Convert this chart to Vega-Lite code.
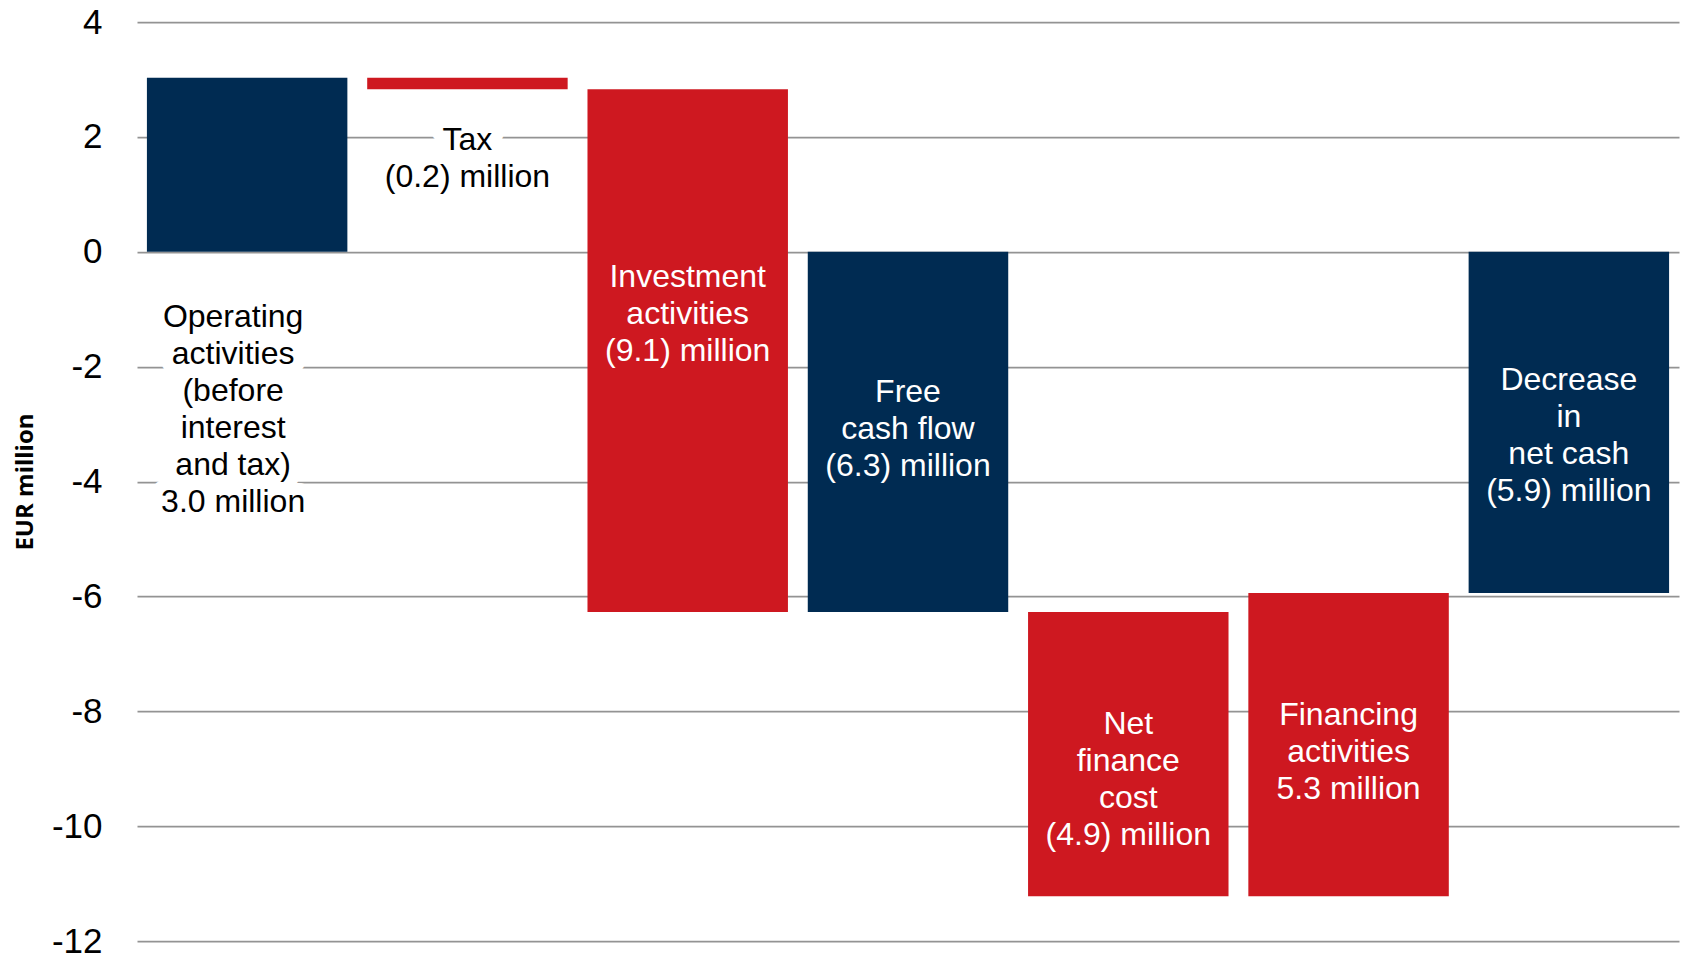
{
  "$schema": "https://vega.github.io/schema/vega-lite/v6.json",
  "autosize": "none",
  "width": 1542,
  "height": 919,
  "padding": {"left": 137, "top": 22, "right": 6, "bottom": 16},
  "background": "white",
  "config": {"view": {"stroke": null}},
  "data": {
    "values": [
      {"cat": "Operating activities", "start": 0, "end": 3.03, "kind": "total", "label": "Operating\nactivities\n(before\ninterest\nand tax)\n3.0 million", "label_y": -1.13, "inside": false},
      {"cat": "Tax", "start": 3.03, "end": 2.83, "kind": "change", "label": "Tax\n(0.2) million", "label_y": 1.95, "inside": false},
      {"cat": "Investment activities", "start": 2.83, "end": -6.27, "kind": "change", "label": "Investment\nactivities\n(9.1) million", "label_y": -0.44, "inside": true},
      {"cat": "Free cash flow", "start": 0, "end": -6.27, "kind": "total", "label": "Free\ncash flow\n(6.3) million", "label_y": -2.44, "inside": true},
      {"cat": "Net finance cost", "start": -6.27, "end": -11.22, "kind": "change", "label": "Net\nfinance\ncost\n(4.9) million", "label_y": -8.22, "inside": true},
      {"cat": "Financing activities", "start": -11.22, "end": -5.94, "kind": "change", "label": "Financing\nactivities\n5.3 million", "label_y": -8.06, "inside": true},
      {"cat": "Decrease in net cash", "start": 0, "end": -5.94, "kind": "total", "label": "Decrease\nin\nnet cash\n(5.9) million", "label_y": -2.23, "inside": true}
    ]
  },
  "encoding": {
    "x": {
      "field": "cat",
      "type": "nominal",
      "sort": null,
      "scale": {"paddingInner": 0.09, "paddingOuter": 0.045},
      "axis": null
    }
  },
  "layer": [
    {
      "mark": {"type": "bar"},
      "encoding": {
        "y": {
          "field": "start",
          "type": "quantitative",
          "scale": {"domain": [-12, 4], "nice": false, "zero": false},
          "axis": {
            "values": [-12, -10, -8, -6, -4, -2, 0, 2, 4],
            "labelExpr": "'' + datum.value",
            "grid": true,
            "gridColor": "#939393",
            "gridWidth": 1.75,
            "domain": false,
            "ticks": false,
            "labelFont": "Liberation Sans",
            "labelFontSize": 35,
            "labelColor": "black",
            "labelPadding": 35,
            "title": "EUR million",
            "titleFont": "Open Sans",
            "titleFontSize": 24,
            "titleFontWeight": "bold",
            "titleColor": "black",
            "titlePadding": 14
          }
        },
        "y2": {"field": "end"},
        "color": {
          "field": "kind",
          "type": "nominal",
          "scale": {"domain": ["total", "change"], "range": ["#002B52", "#CE1820"]},
          "legend": null
        }
      }
    },
    {
      "transform": [{"filter": "datum.cat == 'Tax'"}],
      "mark": {
        "type": "text",
        "font": "Liberation Sans",
        "fontSize": 32,
        "lineHeight": 37,
        "lineBreak": "\n",
        "align": "center",
        "baseline": "middle",
        "fill": "white",
        "stroke": "white",
        "strokeWidth": 24,
        "strokeJoin": "round"
      },
      "encoding": {
        "y": {"field": "label_y", "type": "quantitative"},
        "text": {"field": "label"}
      }
    },
    {
      "transform": [{"filter": "datum.cat == 'Operating activities'"}],
      "mark": {
        "type": "text",
        "font": "Liberation Sans",
        "fontSize": 32,
        "lineHeight": 37,
        "lineBreak": "\n",
        "align": "center",
        "baseline": "middle",
        "dx": -14,
        "fill": "white",
        "stroke": "white",
        "strokeWidth": 24,
        "strokeJoin": "round"
      },
      "encoding": {
        "y": {"field": "label_y", "type": "quantitative"},
        "text": {"field": "label"}
      }
    },
    {
      "transform": [{"filter": "datum.cat != 'Operating activities'"}],
      "mark": {
        "type": "text",
        "font": "Liberation Sans",
        "fontSize": 32,
        "lineHeight": 37,
        "lineBreak": "\n",
        "align": "center",
        "baseline": "middle"
      },
      "encoding": {
        "y": {"field": "label_y", "type": "quantitative"},
        "text": {"field": "label"},
        "color": {"condition": {"test": "datum.inside", "value": "white"}, "value": "black"}
      }
    },
    {
      "transform": [{"filter": "datum.cat == 'Operating activities'"}],
      "mark": {
        "type": "text",
        "font": "Liberation Sans",
        "fontSize": 32,
        "lineHeight": 37,
        "lineBreak": "\n",
        "align": "center",
        "baseline": "middle",
        "dx": -14,
        "color": "black"
      },
      "encoding": {
        "y": {"field": "label_y", "type": "quantitative"},
        "text": {"field": "label"}
      }
    }
  ]
}
